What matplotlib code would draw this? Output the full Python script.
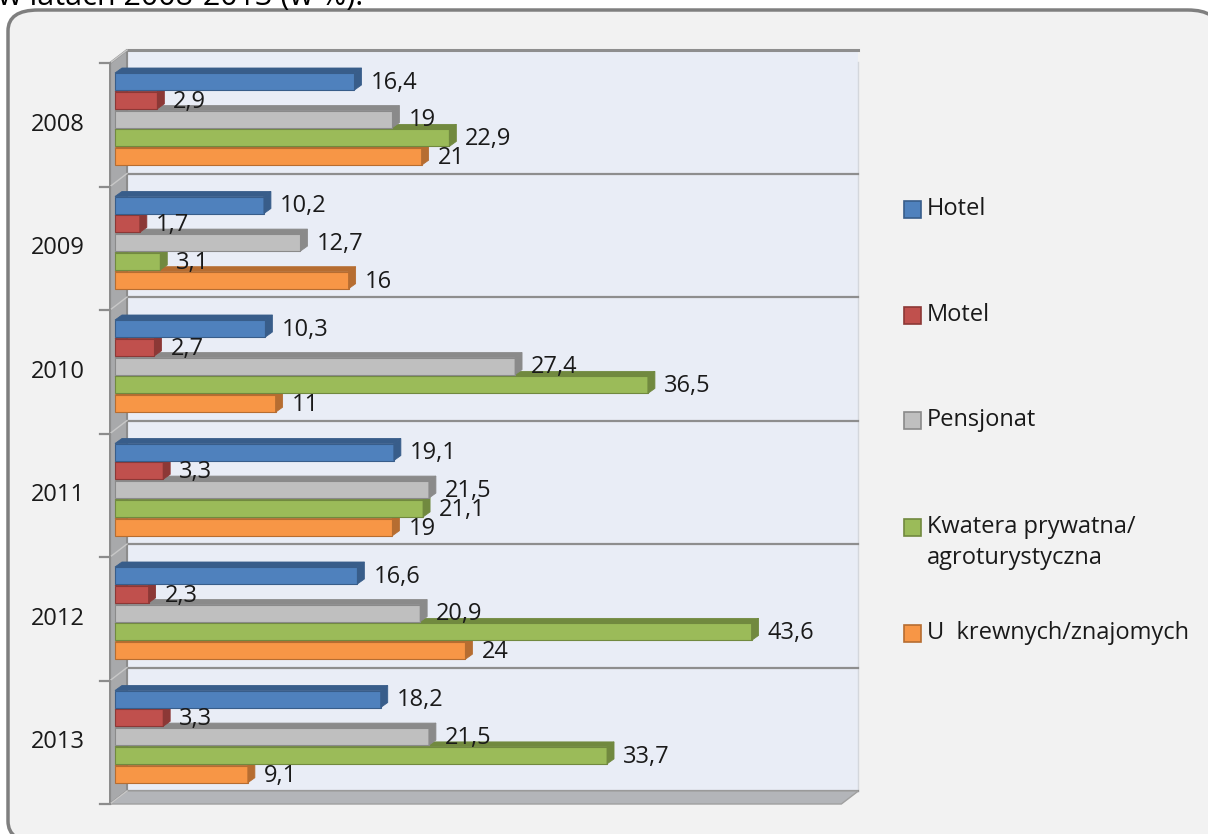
import matplotlib
matplotlib.use("Agg")
import matplotlib.pyplot as plt
from matplotlib.patches import Polygon, Rectangle, FancyBboxPatch

# dane (w %)
lata = ['2008', '2009', '2010', '2011', '2012', '2013']
hotel = [16.4, 10.2, 10.3, 19.1, 16.6, 18.2]
motel = [2.9, 1.7, 2.7, 3.3, 2.3, 3.3]
pensjonat = [19, 12.7, 27.4, 21.5, 20.9, 21.5]
kwatera = [22.9, 3.1, 36.5, 21.1, 43.6, 33.7]
krewni = [21, 16, 11, 19, 24, 9.1]

nazwy = ['Hotel', 'Motel', 'Pensjonat', 'Kwatera prywatna/\nagroturystyczna', 'U  krewnych/znajomych']
serie = [hotel, motel, pensjonat, kwatera, krewni]
kolory = ['#4f81bd', '#c0504d', '#bfbfbf', '#9bbb59', '#f79646']
ciemne = ['#385d8a', '#8c3836', '#8a8a8a', '#71893f', '#b66d31']

plt.rcParams['font.family'] = ['Open Sans', 'DejaVu Sans']

W, H = 1208, 834
fig = plt.figure(figsize=(W / 100, H / 100), dpi=100)
fig.patch.set_facecolor('white')

# ramka z zaokraglonymi rogami (wychodzi poza prawa i dolna krawedz)
ramka = FancyBboxPatch((8 / W, -8 / H), (1218 - 8) / W, (834 - 10 + 8) / H,
                       boxstyle="round,pad=0,rounding_size=0.025",
                       transform=fig.transFigure, facecolor='#f2f2f2',
                       edgecolor='#7f7f7f', linewidth=2.5, zorder=-5)
fig.patches.append(ramka)

fig.text(-2 / W, 1 - 5 / H, 'w latach 2008-2013 (w %).', fontsize=22,
         va='baseline', ha='left', color='black')

# osie na calej figurze, skala: 14.6 px na 1%, 123.5 px na grupe
ax = fig.add_axes([0, 0, 1, 1])
ax.patch.set_visible(False)
ax.axis('off')
px_x, x0px = 14.6, 115
px_y, y0px = 123.5, 124.75
ax.set_xlim((0 - x0px) / px_x, (W - x0px) / px_x)
ax.set_ylim((H - y0px) / px_y, (0 - y0px) / px_y)

n = len(lata)
x0, x1 = -0.34, 49.75
dxw, dyw = 17 / px_x, -13 / px_y
yt, yb = -0.5, n - 0.5

# sciana tylna, lewa i podloga
ax.add_patch(Polygon([(x0 + dxw, yt + dyw), (x1 + dxw, yt + dyw), (x1 + dxw, yb + dyw),
                      (x0 + dxw, yb + dyw)], closed=True, facecolor='#e9edf6',
                     edgecolor='none', zorder=1))
ax.add_patch(Polygon([(x0, yt), (x0 + dxw, yt + dyw), (x0 + dxw, yb + dyw), (x0, yb)],
                     closed=True, facecolor='#a8a9ab', edgecolor='#8c8c8c', lw=1.5, zorder=2))
ax.add_patch(Polygon([(x0, yb), (x0 + dxw, yb + dyw), (x1 + dxw, yb + dyw), (x1, yb)],
                     closed=True, facecolor='#b3b5b9', edgecolor='#a0a0a0', lw=1, zorder=2))
ax.plot([x1 + dxw, x1 + dxw], [yt + dyw + 0.1, yb + dyw], color='#d4d7dc', lw=1, zorder=1.5)

for g in range(n + 1):
    yy = g - 0.5
    ax.plot([x0 + dxw, x1 + dxw], [yy + dyw, yy + dyw], color='#8e8e8e',
            lw=2.2 if g == 0 else 1.6, zorder=1.5)
    ax.plot([x0, x0 + dxw], [yy, yy + dyw], color='#c8c8c8', lw=1, zorder=2.5)
    ax.plot([x0 - 10 / px_x, x0], [yy, yy], color='#8c8c8c', lw=1.6, zorder=2.5)

for g, rok in enumerate(lata):
    ax.text((58 - x0px) / px_x, g, rok, ha='center', va='center', fontsize=17, color='#1a1a1a')

# slupki 3D
h = 17 / px_y
krok = 18.8 / px_y
bdx, bdy = 7 / px_x, -5 / px_y
for i, (wart, kol, ciem) in enumerate(zip(serie, kolory, ciemne)):
    z = 10 - i
    for g, v in enumerate(wart):
        yc = g - 51.75 / px_y + h / 2 + i * krok
        top, bot = yc - h / 2, yc + h / 2
        ax.barh(yc, v, height=h, left=0, color=kol, edgecolor=ciem, linewidth=0.8, zorder=z)
        ax.add_patch(Polygon([(0, top), (bdx, top + bdy), (v + bdx, top + bdy), (v, top)],
                             closed=True, facecolor=ciem, edgecolor=ciem, lw=0.6, zorder=z))
        ax.add_patch(Polygon([(v, top), (v + bdx, top + bdy), (v + bdx, bot + bdy), (v, bot)],
                             closed=True, facecolor=ciem, edgecolor=ciem, lw=0.6, zorder=z))
        ax.annotate(f"{v:g}".replace('.', ','), (v, yc), xytext=(16 * 0.72, -1),
                    textcoords='offset points', ha='left', va='center',
                    fontsize=17, color='#1a1a1a', zorder=20)

# legenda
leg_y = [209, 315, 420, 527, 633]
for nazwa, kol, ciem, yy in zip(nazwy, kolory, ciemne, leg_y):
    fig.patches.append(Rectangle((904 / W, 1 - (yy + 8.5) / H), 17 / W, 17 / H,
                                 transform=fig.transFigure, facecolor=kol,
                                 edgecolor=ciem, lw=1.2, zorder=5))
    fig.text(927 / W, 1 - yy / H, nazwa.split('\n')[0], fontsize=17,
             va='center', ha='left', color='#1a1a1a')
    if '\n' in nazwa:
        fig.text(927 / W, 1 - (yy + 31) / H, nazwa.split('\n')[1], fontsize=17,
                 va='center', ha='left', color='#1a1a1a')

fig.savefig('out.png', dpi=100)
